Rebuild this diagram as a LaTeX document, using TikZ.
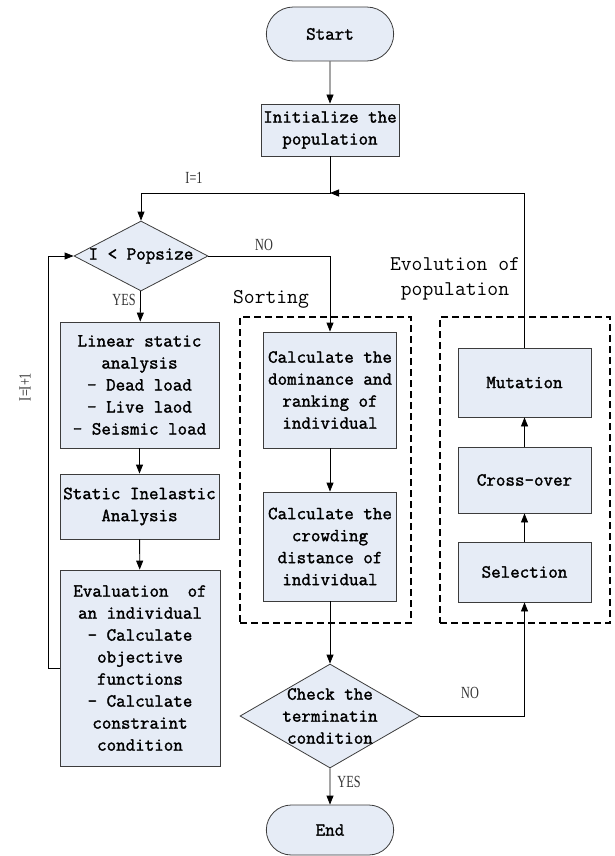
\documentclass[tikz,border=0pt]{standalone}
\usepackage{fontspec}
\usepackage{xcolor}
\usepackage{tikz}
\usetikzlibrary{shapes.geometric,shapes.misc,arrows.meta}

\newfontfamily\boxfont{Latin Modern Mono}[FakeBold=1.6]
\newfontfamily\grpfont{Latin Modern Mono}
\newfontfamily\lblfont{Liberation Serif}[FakeStretch=0.72]
\definecolor{boxfill}{RGB}{230,236,246}
\definecolor{boxline}{RGB}{60,60,60}

\begin{document}
\begin{tikzpicture}[x=1pt, y=-1pt,
                    every node/.style={align=center, font=\boxfont\fontsize{18.5}{22}\selectfont},
                    proc/.style={rectangle, draw=boxline, fill=boxfill, line width=0.8pt, inner sep=1pt},
                    term/.style={rounded rectangle, draw=boxline, fill=boxfill, line width=0.8pt,
                                 minimum width=134, minimum height=54},
                    decision/.style={diamond, draw=boxline, fill=boxfill, line width=0.8pt, inner sep=0pt},
                    dashgrp/.style={rectangle, draw, line width=2pt, dash pattern=on 7pt off 4pt},
                    grouptitle/.style={font=\grpfont\fontsize{21}{25}\selectfont},
                    lbl/.style={font=\lblfont\fontsize{17}{17}\selectfont, text=black!80},
                    arr/.style={line width=0.8pt, -{Triangle[length=9pt,width=7pt]}}]

\useasboundingbox (0,0) rectangle (615,856);

% Start and initialisation
\node[term] (start) at (330,34) {Start};
\node[proc, minimum width=138, minimum height=52] (init) at (330,130) {Initialize the\\population};
\coordinate (j1) at (330,193);

% Evaluation loop
\node[decision, minimum width=134, minimum height=70, label={center:I < Popsize}] (popsize) at (141,256) {};
\node[proc, minimum width=159, minimum height=126] (lin) at (139.5,385) {Linear static\\analysis\\- Dead load\\- Live laod\\- Seismic load};
\node[proc, minimum width=159, minimum height=65] (sia) at (139.5,506.5) {Static Inelastic\\Analysis};
\node[proc, minimum width=160, minimum height=196] (eva) at (140,668) {Evaluation~ of\\an individual\\- Calculate\\objective\\functions\\- Calculate\\constraint\\condition};

% Sorting group
\node[dashgrp, minimum width=171, minimum height=306] (sortgrp) at (325.5,470) {};
\node[grouptitle] (tsort) at (271,299) {Sorting};
\node[proc, minimum width=133, minimum height=116] (dom) at (330,390) {Calculate the\\dominance and\\ranking of\\individual};
\node[proc, minimum width=133, minimum height=109] (crowd) at (330,546.5) {Calculate the\\crowding\\distance of\\individual};

% Evolution group
\node[dashgrp, minimum width=170, minimum height=306] (evogrp) at (525,470) {};
\node[grouptitle] (tevo) at (455,279) {Evolution of\\population};
\node[proc, minimum width=133, minimum height=69] (mut) at (524.5,382.5) {Mutation};
\node[proc, minimum width=133, minimum height=66] (cross) at (524.5,480) {Cross-over};
\node[proc, minimum width=133, minimum height=60] (sel) at (524.5,572) {Selection};

% Termination
\node[decision, minimum width=180, minimum height=104,
      label={[align=center]center:{Check the\\terminatin\\condition}}] (check) at (330,716) {};
\node[term, minimum height=50] (stop) at (330,830) {End};

% Labels
\node[lbl] (lone) at (194,178) {I=1};
\node[lbl] (lno1) at (264,245) {NO};
\node[lbl] (lyes1) at (124,300) {YES};
\node[lbl, rotate=90] (linc) at (25,387) {I=I+1};
\node[lbl] (lno2) at (470,693) {NO};
\node[lbl] (lyes2) at (349,782) {YES};

% Connections
\draw[arr] (start) -- (init);
\draw[arr] (init) -- (j1) -| (popsize.north);
\draw[arr] (mut) |- (j1);

\draw[arr] (popsize) -- (lin);
\draw[arr] (lin) -- (sia);
\draw[arr] (sia) -- (eva);
\draw[arr] (eva.west) -- ++(-11,0) |- (popsize.west);

\draw[arr] (popsize) -| (dom);
\draw[arr] (dom) -- (crowd);
\draw[arr] (crowd) -- (check);

\draw[arr] (check) -| (sel);
\draw[arr] (sel) -- (cross);
\draw[arr] (cross) -- (mut);

\draw[arr] (check) -- (stop);

\end{tikzpicture}
\end{document}
